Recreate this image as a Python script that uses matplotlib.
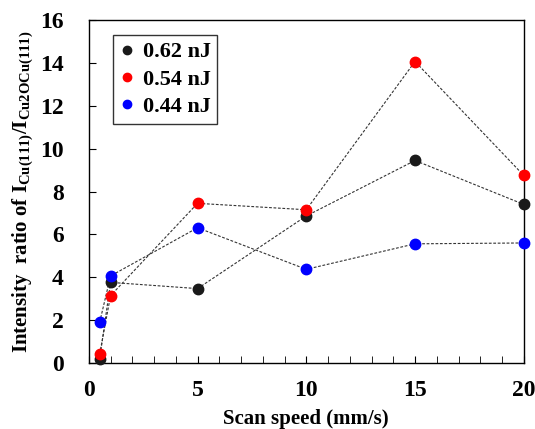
import numpy as np
import matplotlib.pyplot as plt

plt.rcParams['font.family'] = 'Liberation Serif'
plt.rcParams['font.weight'] = 'bold'
plt.rcParams['axes.labelweight'] = 'bold'
plt.rcParams['mathtext.default'] = 'regular'

# scan speed (mm/s)
speed = [0.5, 1, 5, 10, 15, 20]
# intensity ratio for each pulse energy
r062 = [0.19, 3.76, 3.47, 6.86, 9.45, 7.40]
r054 = [0.42, 3.14, 7.45, 7.15, 14.07, 8.75]
r044 = [1.90, 4.06, 6.31, 4.37, 5.56, 5.60]
labels = ['0.62 nJ', '0.54 nJ', '0.44 nJ']
colors = ['#1a1a1a', '#ff0000', '#0000ff']

fig = plt.figure(figsize=(5.35, 4.29), dpi=100)
ax = fig.add_axes([0.166, 0.154, 0.813, 0.799])

for y, lab, c in zip([r062, r054, r044], labels, colors):
    ax.plot(speed, y, ls=(0, (2.5, 1.5)), lw=0.8, color='#333333', zorder=1)
    ax.plot(speed, y, 'o', ms=7.5, color=c, label=lab, zorder=3, clip_on=False)

ax.set_xlim(0, 20)
ax.set_ylim(0, 16)
ax.set_xticks([0, 5, 10, 15, 20])
ax.set_xticks(np.arange(0, 21, 1), minor=True)
ax.set_yticks(np.arange(0, 17, 2))
ax.tick_params(axis='both', which='both', direction='in', labelsize=17)
ax.tick_params(axis='x', which='both', length=5, pad=12)
ax.tick_params(axis='y', length=5, pad=18)
for s in ax.spines.values():
    s.set_linewidth(1.0)

ax.set_xlabel('Scan speed (mm/s)', fontsize=15, labelpad=6)
ax.set_ylabel('Intensity  ratio of I$_{Cu(111)}$/I$_{Cu2OCu(111)}$', fontsize=15, labelpad=4)

leg = ax.legend(loc='upper left', bbox_to_anchor=(0.055, 0.956), borderaxespad=0,
                fontsize=16, fancybox=False, edgecolor='black', handletextpad=0.4,
                handlelength=0.65, borderpad=0.3, labelspacing=0.3, markerscale=0.8)
leg.get_frame().set_linewidth(1.0)

fig.savefig('out.png', dpi=100)
